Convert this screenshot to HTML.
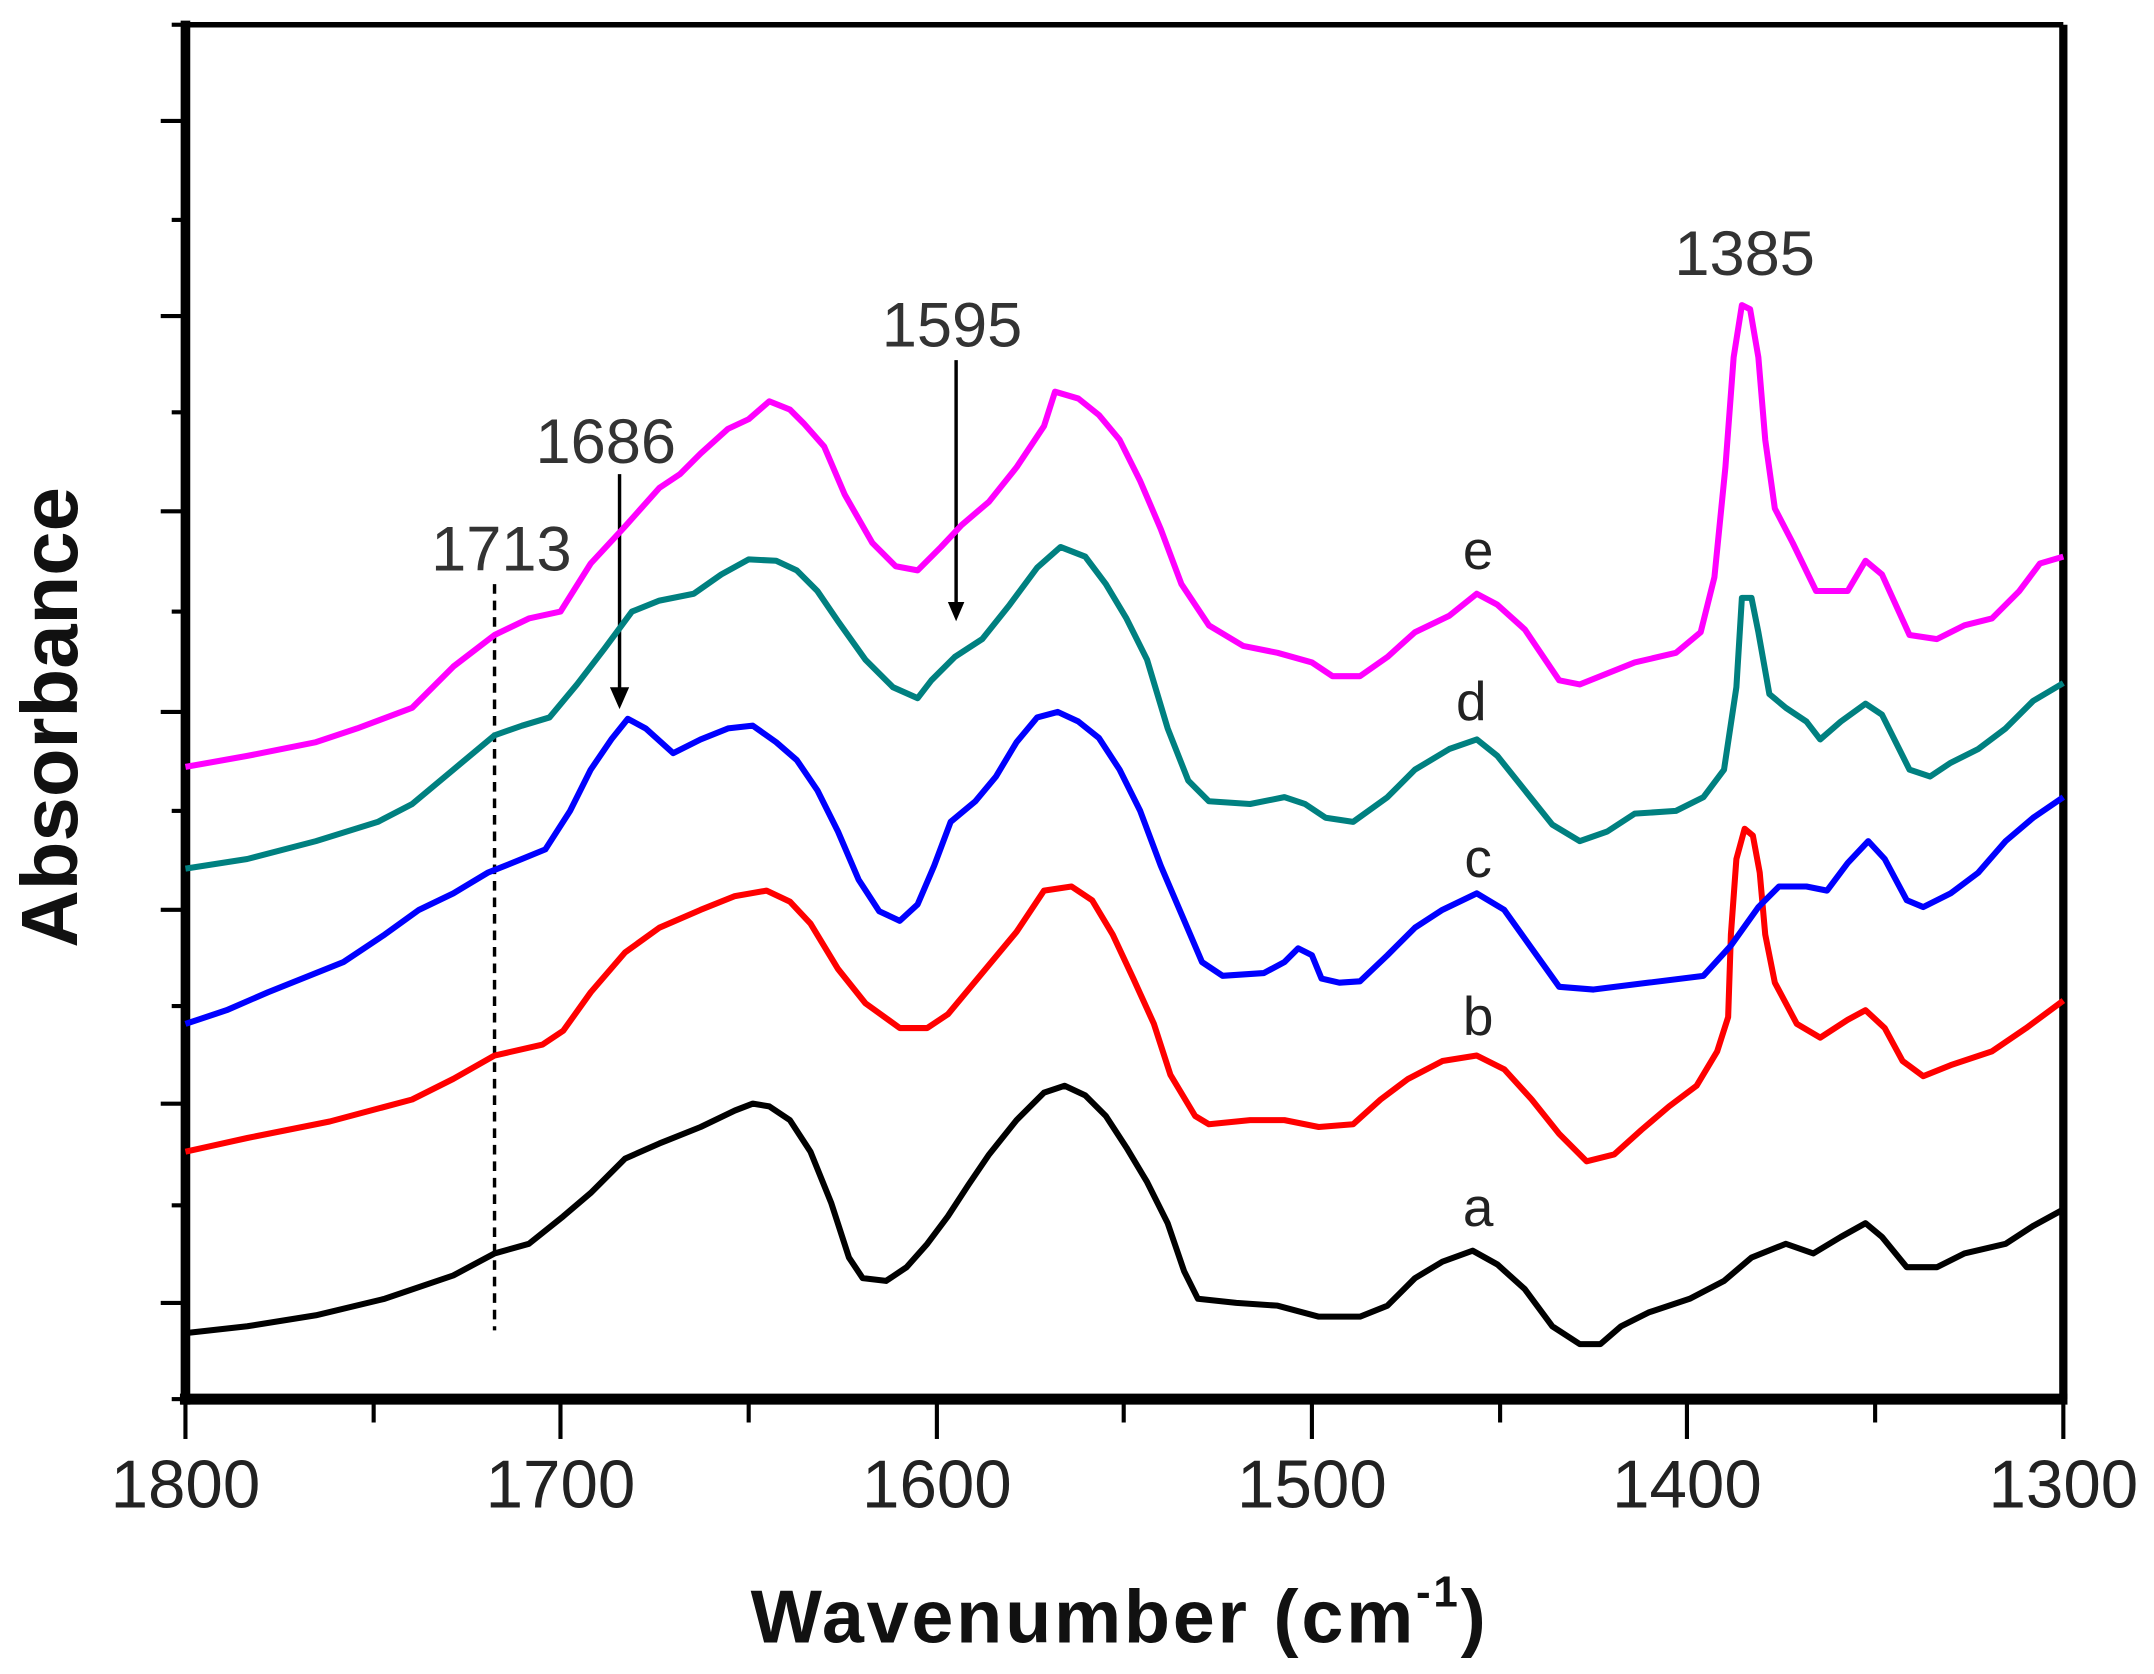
<!DOCTYPE html>
<html><head><meta charset="utf-8"><style>
html,body{margin:0;padding:0;background:#fff}
svg{display:block}
text{font-family:"Liberation Sans",sans-serif}
</style></head><body>
<svg width="2154" height="1674" viewBox="0 0 1568 1218" preserveAspectRatio="none" xmlns="http://www.w3.org/2000/svg">
<g stroke="#000" fill="none">
<line x1="135" y1="18" x2="1502" y2="18" stroke-width="4"/>
<line x1="1502" y1="18" x2="1502" y2="1018" stroke-width="6"/>
<line x1="135" y1="15" x2="135" y2="1022" stroke-width="7"/>
<line x1="131" y1="1018" x2="1505" y2="1018" stroke-width="8"/>
<g stroke-width="3">
<line x1="117" y1="88" x2="135" y2="88"/><line x1="117" y1="230" x2="135" y2="230"/><line x1="117" y1="372" x2="135" y2="372"/><line x1="117" y1="518" x2="135" y2="518"/><line x1="117" y1="662" x2="135" y2="662"/><line x1="117" y1="803" x2="135" y2="803"/><line x1="117" y1="948" x2="135" y2="948"/>
<line x1="125" y1="18" x2="135" y2="18"/><line x1="125" y1="160" x2="135" y2="160"/><line x1="125" y1="300" x2="135" y2="300"/><line x1="125" y1="445" x2="135" y2="445"/><line x1="125" y1="590" x2="135" y2="590"/><line x1="125" y1="732" x2="135" y2="732"/><line x1="125" y1="877" x2="135" y2="877"/><line x1="125" y1="1018" x2="135" y2="1018"/>
<line x1="135" y1="1018" x2="135" y2="1047"/><line x1="408" y1="1018" x2="408" y2="1047"/><line x1="682" y1="1018" x2="682" y2="1047"/><line x1="955" y1="1018" x2="955" y2="1047"/><line x1="1228" y1="1018" x2="1228" y2="1047"/><line x1="1502" y1="1018" x2="1502" y2="1047"/>
<line x1="272" y1="1018" x2="272" y2="1035"/><line x1="545" y1="1018" x2="545" y2="1035"/><line x1="818" y1="1018" x2="818" y2="1035"/><line x1="1092" y1="1018" x2="1092" y2="1035"/><line x1="1365" y1="1018" x2="1365" y2="1035"/>
</g>
<line x1="360" y1="425" x2="360" y2="968" stroke-width="2.5" stroke-dasharray="7,5"/>
<line x1="451" y1="345" x2="451" y2="505" stroke-width="2.5"/>
<line x1="696" y1="262" x2="696" y2="440" stroke-width="2.5"/>
</g>
<polygon points="444,500 458,500 451,516" fill="#000"/>
<polygon points="690,438 702,438 696,452" fill="#000"/>
<g fill="none" stroke-width="4.4" stroke-linejoin="round">
<polyline stroke="#000" points="135,970 180,965 230,957 280,945 330,928 360,912 385,905 410,885 430,868 455,843 480,832 510,820 535,808 548,803 560,805 575,815 590,838 605,875 618,915 628,930 645,932 660,922 675,905 690,885 705,862 720,840 740,815 760,795 775,790 790,797 805,812 820,835 835,860 850,890 862,925 872,945 900,948 930,950 960,958 990,958 1010,950 1030,930 1050,918 1072,910 1090,920 1110,938 1130,965 1150,978 1165,978 1180,965 1200,955 1230,945 1255,932 1275,915 1300,905 1320,912 1340,900 1358,890 1370,900 1388,922 1410,922 1430,912 1460,905 1480,892 1502,880"/>
<polyline stroke="#f00" points="135,838 180,828 240,816 300,800 330,785 360,768 395,760 410,750 430,722 455,693 480,675 510,662 535,652 558,648 575,656 590,672 610,705 630,730 655,748 675,748 690,738 705,720 720,702 740,678 760,648 780,645 795,655 810,680 825,712 840,745 852,782 870,812 880,818 910,815 935,815 960,820 985,818 1005,800 1025,785 1050,772 1075,768 1095,778 1115,800 1135,825 1155,845 1175,840 1195,822 1215,805 1235,790 1250,765 1258,740 1260,680 1264,625 1270,603 1276,608 1281,635 1285,680 1292,715 1308,745 1325,755 1345,742 1358,735 1372,748 1385,772 1400,783 1420,775 1450,765 1475,748 1502,728"/>
<polyline stroke="#00f" points="135,745 165,735 195,722 225,710 250,700 280,680 305,662 330,650 355,635 380,625 397,618 415,590 430,560 445,538 457,523 470,530 490,548 510,538 530,530 548,528 565,540 580,553 595,575 610,605 625,640 640,663 655,670 668,658 680,630 692,598 710,583 725,565 740,540 755,522 770,518 785,525 800,537 815,560 830,590 845,630 860,665 875,700 890,710 920,708 935,700 945,690 955,695 962,712 975,715 990,714 1010,695 1030,675 1050,662 1075,650 1095,662 1115,690 1135,718 1160,720 1200,715 1240,710 1260,688 1280,660 1295,645 1315,645 1330,648 1345,628 1360,612 1372,625 1388,655 1400,660 1420,650 1440,635 1460,612 1480,595 1502,580"/>
<polyline stroke="#008080" points="135,632 180,625 230,612 275,598 300,585 330,560 360,535 380,528 400,522 420,498 440,472 460,445 480,437 505,432 525,418 545,407 565,408 580,415 595,430 610,452 630,480 650,500 668,508 678,495 695,478 715,465 735,440 755,413 772,398 790,405 805,425 820,450 835,480 850,530 865,568 880,583 910,585 935,580 950,585 965,595 985,598 1010,580 1030,560 1055,545 1075,538 1090,550 1110,575 1130,600 1150,612 1170,605 1190,592 1220,590 1240,580 1255,560 1264,500 1268,435 1275,435 1280,460 1288,505 1300,515 1315,525 1325,538 1340,525 1358,512 1370,520 1390,560 1405,565 1420,555 1440,545 1460,530 1480,510 1502,497"/>
<polyline stroke="#f0f" points="135,558 180,550 230,540 260,530 300,515 330,485 360,462 385,450 408,445 430,410 455,383 480,355 495,345 510,330 530,312 545,305 560,292 575,298 585,308 600,325 615,360 635,395 652,412 668,415 685,398 700,382 720,365 740,340 760,310 768,285 785,290 800,302 815,320 830,350 845,385 860,425 880,455 905,470 930,475 955,482 970,492 990,492 1010,478 1030,460 1055,448 1075,432 1090,440 1110,458 1135,495 1150,498 1170,490 1190,482 1220,475 1238,460 1248,420 1256,340 1262,260 1268,222 1274,225 1280,260 1285,320 1292,370 1305,395 1322,430 1345,430 1358,408 1370,418 1390,462 1410,465 1430,455 1450,450 1470,430 1485,410 1502,405"/>
</g>
<g font-size="49" fill="#222" text-anchor="middle">
<text x="135" y="1097">1800</text><text x="408" y="1097">1700</text><text x="682" y="1097">1600</text><text x="955" y="1097">1500</text><text x="1228" y="1097">1400</text><text x="1502" y="1097">1300</text>
</g>
<g font-size="46" fill="#333" text-anchor="middle">
<text x="365" y="415">1713</text><text x="441" y="337">1686</text><text x="693" y="252">1595</text><text x="1270" y="200">1385</text>
</g>
<g font-size="40" fill="#222" text-anchor="middle">
<text x="1076" y="414">e</text><text x="1071" y="524">d</text><text x="1076" y="638">c</text><text x="1076" y="753">b</text><text x="1076" y="892">a</text>
</g>
<text x="0" y="0" font-size="58" font-weight="bold" text-anchor="middle" fill="#111" transform="translate(56,522) rotate(-90)">Absorbance</text>
<text x="815" y="1195" font-size="55" font-weight="bold" text-anchor="middle" fill="#111" letter-spacing="2">Wavenumber (cm<tspan font-size="32" dy="-26">-1</tspan><tspan dy="26">)</tspan></text>
</svg>
</body></html>
